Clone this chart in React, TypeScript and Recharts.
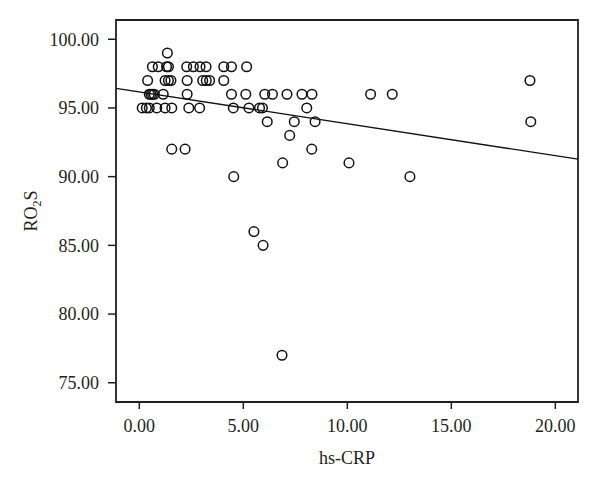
import React from "react";
import {
  ScatterChart,
  Scatter,
  XAxis,
  YAxis,
  ReferenceLine,
  ReferenceArea,
  Label,
} from "recharts";

// hs-CRP (x) and RO2S (y) pairs
const hsCRP = [
  1.35,
  0.63, 0.91, 1.31, 1.4, 2.28, 2.6, 2.92, 3.21, 4.06, 4.43, 5.16,
  0.4, 1.24, 1.4, 1.52, 2.3, 3.05, 3.22, 3.38, 4.06, 18.78,
  0.48, 0.56, 0.64, 0.72, 1.15, 2.3, 4.43, 5.12, 6.03, 6.4, 7.1, 7.82, 8.3, 11.12, 12.16,
  0.14, 0.34, 0.48, 0.84, 1.24, 1.56, 2.38, 2.9, 4.52, 5.27, 5.78, 5.92, 8.05,
  6.15, 7.45, 8.45, 18.82,
  7.23,
  1.56, 2.2, 8.29,
  6.89, 10.08,
  4.54, 13.01,
  5.51,
  5.95,
  6.86,
];
const ro2s = [
  99,
  98, 98, 98, 98, 98, 98, 98, 98, 98, 98, 98,
  97, 97, 97, 97, 97, 97, 97, 97, 97, 97,
  96, 96, 96, 96, 96, 96, 96, 96, 96, 96, 96, 96, 96, 96, 96,
  95, 95, 95, 95, 95, 95, 95, 95, 95, 95, 95, 95, 95,
  94, 94, 94, 94,
  93,
  92, 92, 92,
  91, 91,
  90, 90,
  86,
  85,
  77,
];

const xTicks = [0, 5, 10, 15, 20];
const yTicks = [75, 80, 85, 90, 95, 100];
const xDomain = [-1.12, 21.09];
const yDomain = [73.6, 101.4];

// fitted regression line: y = intercept + slope * x
const fitIntercept = 96.17;
const fitSlope = -0.2323;

const data = hsCRP.map((x, i) => ({ x, y: ro2s[i] }));
const fitSegment = xDomain.map((x) => ({ x, y: fitIntercept + fitSlope * x }));

const FONT = "'Liberation Serif', 'Times New Roman', serif";
const INK = "#231f20";

const Ring = (props: any) => (
  <circle
    cx={props.cx}
    cy={props.cy}
    r={4.8}
    fill="none"
    stroke="#111"
    strokeWidth={1.5}
  />
);

export default function App() {
  return (
    <div>
      <style>{`body{margin:0}`}</style>
      <ScatterChart
        width={600}
        height={492}
        margin={{ top: 20, right: 22, bottom: 0, left: 0 }}
      >
        <XAxis
          type="number"
          dataKey="x"
          domain={xDomain}
          ticks={xTicks}
          allowDataOverflow
          tickFormatter={(v: number) => v.toFixed(2)}
          height={90}
          axisLine={false}
          tickLine={{ stroke: INK, strokeWidth: 1.5 }}
          tickSize={7}
          tickMargin={10}
          tick={{ fill: INK, fontFamily: FONT, fontSize: 18 }}
        >
          <Label
            content={(p: any) => {
              const vb = p.viewBox;
              return (
                <text
                  x={vb.x + vb.width / 2}
                  y={vb.y + 62}
                  textAnchor="middle"
                  fontFamily={FONT}
                  fontSize={18}
                  fill={INK}
                >
                  hs-CRP
                </text>
              );
            }}
          />
        </XAxis>
        <YAxis
          type="number"
          dataKey="y"
          domain={yDomain}
          ticks={yTicks}
          allowDataOverflow
          tickFormatter={(v: number) => v.toFixed(2)}
          width={116}
          axisLine={false}
          tickLine={{ stroke: INK, strokeWidth: 1.5 }}
          tickSize={8}
          tickMargin={9}
          tick={{ fill: INK, fontFamily: FONT, fontSize: 18 }}
        >
          <Label
            content={(p: any) => {
              const vb = p.viewBox;
              const cx = vb.x + 37;
              const cy = vb.y + vb.height / 2;
              return (
                <text
                  x={cx}
                  y={cy}
                  transform={`rotate(-90 ${cx} ${cy})`}
                  textAnchor="middle"
                  fontFamily={FONT}
                  fontSize={18}
                  fill={INK}
                >
                  RO
                  <tspan fontSize={12} dy={4}>
                    2
                  </tspan>
                  <tspan dy={-4}>S</tspan>
                </text>
              );
            }}
          />
        </YAxis>
        <ReferenceArea
          x1={xDomain[0]}
          x2={xDomain[1]}
          y1={yDomain[0]}
          y2={yDomain[1]}
          fill="none"
          fillOpacity={0}
          stroke={INK}
          strokeWidth={1.8}
          strokeOpacity={1}
          ifOverflow="visible"
        />
        <ReferenceLine
          segment={fitSegment}
          stroke="#111"
          strokeWidth={1.3}
          ifOverflow="visible"
        />
        <Scatter data={data} shape={Ring} isAnimationActive={false} />
      </ScatterChart>
    </div>
  );
}
